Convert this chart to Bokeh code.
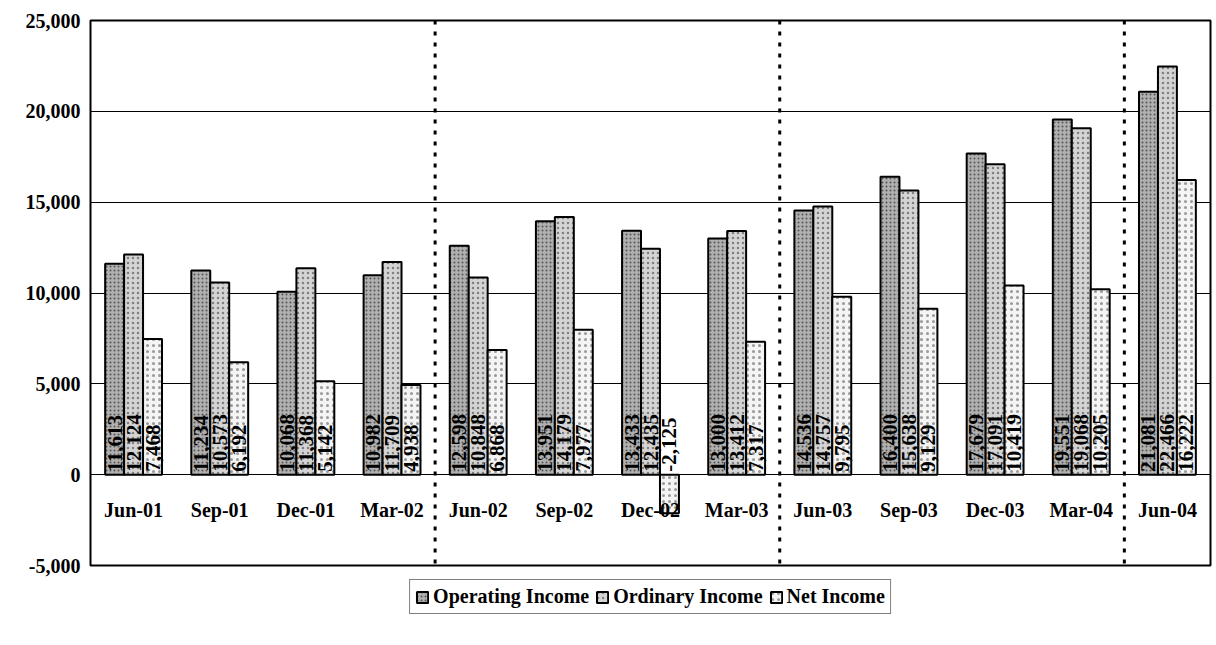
from bokeh.plotting import figure
from bokeh.models import (ColumnDataSource, Span, Legend, LegendItem, FixedTicker,
                          NumeralTickFormatter, Range1d, FactorRange)
from bokeh.transform import dodge
from bokeh.core.properties import value
from bokeh.embed import file_html
from bokeh.resources import INLINE
import math

categories = ["Jun-01", "Sep-01", "Dec-01", "Mar-02", "Jun-02", "Sep-02", "Dec-02",
              "Mar-03", "Jun-03", "Sep-03", "Dec-03", "Mar-04", "Jun-04"]
operating_income = [11613, 11234, 10068, 10982, 12598, 13951, 13433, 13000, 14536, 16400, 17679, 19551, 21081]
ordinary_income = [12124, 10573, 11368, 11709, 10848, 14179, 12435, 13412, 14757, 15638, 17091, 19068, 22466]
net_income = [7468, 6192, 5142, 4938, 6868, 7977, -2125, 7317, 9795, 9129, 10419, 10205, 16222]
y_ticks = [-5000, 0, 5000, 10000, 15000, 20000, 25000]

FONT = "Liberation Serif"

src = ColumnDataSource(dict(
    cat=categories,
    op=operating_income,
    ordi=ordinary_income,
    net=net_income,
    op_lbl=[f"{v:,}" for v in operating_income],
    ord_lbl=[f"{v:,}" for v in ordinary_income],
    net_lbl=[f"{v:,}" for v in net_income],
    zero=[0] * len(categories),
))

p = figure(x_range=FactorRange(*categories), y_range=Range1d(-5000, 25000),
           frame_width=1120, frame_height=545, output_backend="svg", toolbar_location=None,
           x_axis_location=None,
           min_border_left=90, min_border_top=20, min_border_right=2, min_border_bottom=0)

bw = 0.22
series = [
    ("op", "op_lbl", -bw, "Operating Income", "#b0b0b0", 4, "#555555"),
    ("ordi", "ord_lbl", 0.0, "Ordinary Income", "#d4d4d4", 5, "#808080"),
    ("net", "net_lbl", bw, "Net Income", "#f4f4f4", 6, "#999999"),
]
items = []
for col, lbl, off, name, fc, hs, hc in series:
    r = p.vbar(x=dodge("cat", off, range=p.x_range), top=col, bottom=0, width=bw, source=src,
               fill_color=fc, line_color="black", line_width=2,
               hatch_pattern="dot", hatch_scale=hs, hatch_color=hc, hatch_weight=1)
    items.append(LegendItem(label=name, renderers=[r]))
    p.text(x=dodge("cat", off, range=p.x_range), y="zero", text=lbl, source=src,
           angle=math.pi / 2, text_align="left", text_baseline="middle",
           y_offset=-3, text_font=value(FONT), text_font_style="bold",
           text_font_size="21px", text_color="black")

# category labels next to the zero axis
p.text(x="cat", y="zero", text="cat", source=src, text_align="center", text_baseline="middle",
       y_offset=35, text_font=value(FONT), text_font_style="bold", text_font_size="20px",
       text_color="black")

# dotted separators at year boundaries
for i, c in enumerate(categories):
    if i > 0 and c.startswith("Jun"):
        p.add_layout(Span(location=i, dimension="height", line_color="black",
                          line_width=3, line_dash="4 7"))

p.xgrid.grid_line_color = None
p.ygrid.grid_line_color = "black"
p.ygrid.grid_line_width = 1.2
p.yaxis.ticker = FixedTicker(ticks=y_ticks)
p.yaxis.formatter = NumeralTickFormatter(format="0,0")
p.yaxis.axis_line_color = None
p.yaxis.major_tick_line_color = None
p.yaxis.minor_tick_line_color = None
p.yaxis.major_label_standoff = 4
p.yaxis.major_label_text_font = FONT
p.yaxis.major_label_text_font_style = "bold"
p.yaxis.major_label_text_font_size = "20px"
p.yaxis.major_label_text_color = "black"
p.outline_line_color = "black"
p.outline_line_width = 2
p.background_fill_color = "white"

legend = Legend(items=items, orientation="horizontal", location="top_center",
                label_text_font=FONT, label_text_font_style="bold", label_text_font_size="20px",
                label_text_color="black", border_line_color="black", border_line_width=1.5,
                glyph_width=14, glyph_height=14, spacing=6, padding=5, margin=14,
                label_standoff=4, label_height=20)
p.add_layout(legend, "below")

open("out.html", "w").write(file_html(p, INLINE))
